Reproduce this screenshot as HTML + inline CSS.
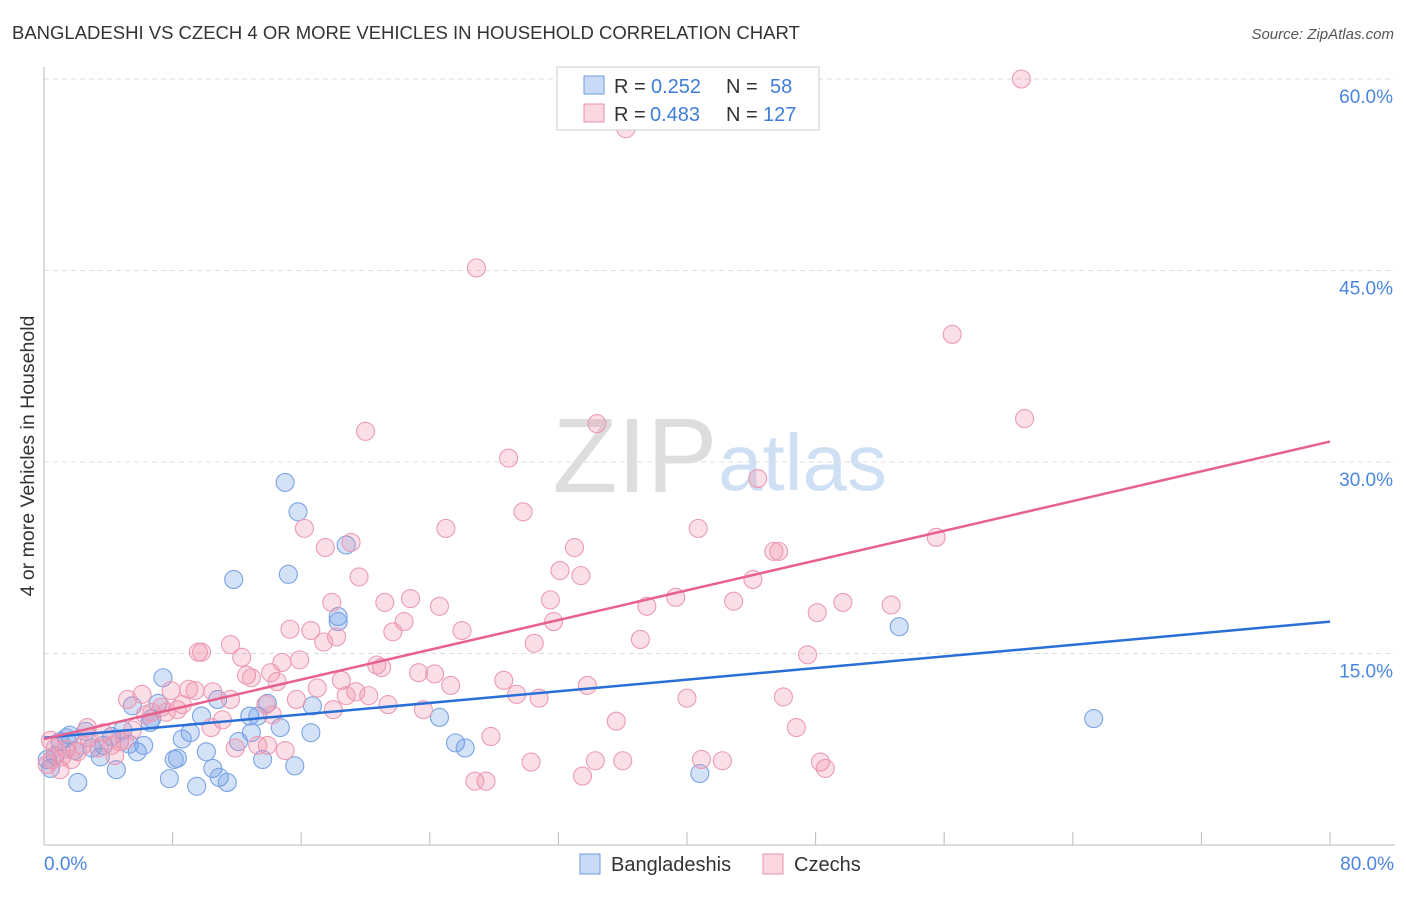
<!DOCTYPE html>
<html><head><meta charset="utf-8"><style>
body{margin:0;background:#fff;font-family:"Liberation Sans",sans-serif;}
svg text{font-family:"Liberation Sans",sans-serif;}
</style></head><body>
<svg id="chart" width="1406" height="892">
<text x="12" y="39" font-size="18.5" fill="#333">BANGLADESHI VS CZECH 4 OR MORE VEHICLES IN HOUSEHOLD CORRELATION CHART</text>
<text x="1394" y="39" font-size="15" fill="#555" font-style="italic" text-anchor="end">Source: ZipAtlas.com</text>
<text x="34" y="456" font-size="19.5" fill="#333" transform="rotate(-90 34 456)" text-anchor="middle">4 or more Vehicles in Household</text>
<g><text x="635" y="492" font-size="106" fill="#ddd" text-anchor="middle" font-family="Liberation Serif,serif">ZIP</text><text x="718" y="490" font-size="80" fill="#cfe0f5">atlas</text></g>
<g id="grid"></g><g id="axes"></g><g id="pts"></g><g id="lines"></g>
<g>
<rect x="557" y="67" width="262" height="63" fill="#fff" stroke="#ccc"/>
<rect x="584" y="76" width="20" height="18" fill="rgba(100,150,230,0.35)" stroke="#6e9be0"/>
<rect x="584" y="104" width="20" height="18" fill="rgba(240,140,170,0.35)" stroke="#e891ab"/>
<text x="614" y="93" font-size="20" fill="#333">R =</text><text x="651" y="93" font-size="20" fill="#3f7ddc">0.252</text>
<text x="726" y="93" font-size="20" fill="#333">N =</text><text x="770" y="93" font-size="20" fill="#3f7ddc">58</text>
<text x="614" y="121" font-size="20" fill="#333">R =</text><text x="650" y="121" font-size="20" fill="#3f7ddc">0.483</text>
<text x="726" y="121" font-size="20" fill="#333">N =</text><text x="763" y="121" font-size="20" fill="#3f7ddc">127</text>
</g>
<g>
<rect x="580" y="854" width="20" height="20" fill="rgba(100,150,230,0.35)" stroke="#6e9be0"/>
<text x="611" y="871" font-size="20" fill="#333">Bangladeshis</text>
<rect x="763" y="854" width="20" height="20" fill="rgba(240,140,170,0.35)" stroke="#e891ab"/>
<text x="794" y="871" font-size="20" fill="#333">Czechs</text>
</g>
</svg>
<script>
const blueX=[15.0,15.8,15.2,11.8,18.8,18.3,18.3,53.2,65.3,7.4,5.5,7.1,10.8,9.8,12.8,13.3,13.9,16.7,14.7,16.6,12.9,12.1,9.1,8.6,10.1,13.6,15.6,10.5,10.9,11.4,9.5,7.8,8.1,8.3,4.5,2.1,24.6,25.6,26.2,40.8,6.6,6.7,4.9,5.3,5.8,6.2,2.6,1.6,1.4,1.0,3.5,3.0,0.4,0.2,3.7,4.2,0.7,1.9];
const blueY=[28.4,26.1,21.2,20.8,23.5,17.9,17.5,17.1,9.9,13.1,10.9,11.1,11.4,10.1,10.1,10.1,11.1,10.9,9.2,8.8,8.8,8.1,8.8,8.3,7.3,6.7,6.2,6.0,5.3,4.9,4.6,5.2,6.7,6.8,5.9,4.9,10.0,8.0,7.6,5.6,9.6,9.9,9.0,7.9,7.3,7.8,8.9,8.6,8.4,8.1,6.9,7.6,6.0,6.7,7.8,8.5,7.0,7.4];
const pinkX=[60.8,36.2,26.9,56.5,61.0,20.0,34.4,28.9,44.4,29.8,25.0,40.7,16.2,19.1,17.5,55.5,33.0,45.4,45.7,32.1,33.4,19.6,44.1,22.8,21.2,17.9,31.5,39.3,42.9,52.7,49.7,48.1,37.5,24.6,31.7,22.4,21.7,26.0,15.3,16.6,37.1,30.5,18.2,17.4,11.6,9.6,9.8,47.5,12.3,15.9,14.8,20.7,21.0,14.1,12.6,12.9,23.3,24.3,14.5,28.6,25.3,18.5,17.0,33.8,9.0,7.9,6.1,19.4,18.8,20.2,29.4,30.8,40.0,46.0,10.5,11.6,8.6,7.3,6.7,8.3,13.8,15.7,21.4,23.6,11.1,35.6,46.8,10.4,5.5,3.7,2.8,4.7,27.8,13.3,13.9,15.0,11.9,1.4,2.1,4.4,0.4,0.7,0.5,0.2,1.1,1.7,2.4,3.4,4.2,30.3,34.3,36.0,40.9,42.2,48.3,48.6,33.5,26.8,27.5,5.2,2.7,1.0,6.3,9.4,7.6,14.2,18.0,5.0];
const pinkY=[60.0,56.1,45.2,40.0,33.4,32.4,33.0,30.3,28.7,26.1,24.8,24.8,24.8,23.7,23.3,24.1,23.3,23.0,23.0,21.5,21.1,21.0,20.8,19.3,19.0,19.0,19.2,19.4,19.1,18.8,19.0,18.2,18.7,18.7,17.5,17.5,16.7,16.8,16.9,16.8,16.1,15.8,16.3,15.9,15.7,15.1,15.1,14.9,14.7,14.5,14.3,14.1,13.9,13.5,13.3,13.1,13.5,13.4,12.8,12.9,12.5,12.9,12.3,12.5,12.2,12.1,11.8,12.0,11.7,11.7,11.8,11.5,11.5,11.6,12.0,11.4,11.0,10.8,10.4,10.6,11.0,11.4,11.0,10.6,9.8,9.7,9.2,9.2,9.0,8.8,8.4,8.1,8.5,7.8,7.8,7.4,7.6,7.5,7.3,7.0,8.2,7.6,6.7,6.3,6.9,6.7,7.8,7.6,7.8,6.5,6.6,6.6,6.7,6.6,6.5,6.0,5.4,5.0,5.0,11.4,9.2,5.9,10.2,12.1,10.4,10.2,10.6,8.2];
const blueFit=[8.4,17.5];   // y at x=0, x=80
const pinkFit=[8.3,31.6];
const yTicks=[15,30,45,60];
const xTickLabels=["0.0%","80.0%"];
const NS="http://www.w3.org/2000/svg";
const sx=v=>44+v*(1286/80), sy=v=>845-v*(191.5/15);
function mk(t,a,p){const e=document.createElementNS(NS,t);for(const k in a)e.setAttribute(k,a[k]);p.appendChild(e);return e;}
const grid=document.getElementById('grid'),axes=document.getElementById('axes'),pts=document.getElementById('pts'),lines=document.getElementById('lines');
yTicks.forEach(t=>{
 const l=mk('line',{x1:44,x2:1395,y1:sy(t),y2:sy(t),stroke:'#ddd','stroke-dasharray':'5,4'},grid);
 
 
 const tx=mk('text',{x:1393,y:sy(t)+24,'font-size':19,fill:'#4a86e0','text-anchor':'end'},axes);
 tx.textContent=t.toFixed(1)+'%';
 
 
});
mk('line',{x1:44,x2:1395,y1:79,y2:79,stroke:'#ddd','stroke-dasharray':'5,4'},grid);
const ya=mk('line',{x1:44,x2:44,y1:67,y2:845,stroke:'#bbb'},axes);


const xa=mk('line',{x1:44,x2:1395,y1:845,y2:845,stroke:'#bbb'},axes);


for(let i=0;i<=10;i++){mk('line',{x1:sx(i*8),x2:sx(i*8),y1:832,y2:845,stroke:'#bbb'},axes);}
const t0=mk('text',{x:44,y:870,'font-size':19,fill:'#4a86e0'},axes);t0.textContent=xTickLabels[0];


const t1=mk('text',{x:1394,y:870,'font-size':19,fill:'#4a86e0','text-anchor':'end'},axes);t1.textContent=xTickLabels[1];


function scatter(X,Y,fill,stroke,name){X.forEach((x,i)=>{
 const c=mk('circle',{cx:sx(x),cy:sy(Y[i]),r:9,fill:fill,stroke:stroke,'stroke-width':1.1},pts);
 
 
});}
scatter(blueX,blueY,'rgba(100,150,230,0.28)','#7aa3e4','bangladeshi-point');
scatter(pinkX,pinkY,'rgba(240,140,170,0.28)','#eb9bb4','czech-point');
const bl=mk('line',{x1:sx(0),y1:sy(blueFit[0]),x2:sx(80),y2:sy(blueFit[1]),stroke:'#2a6fd6','stroke-width':2.5},lines);


const pl=mk('line',{x1:sx(0),y1:sy(pinkFit[0]),x2:sx(80),y2:sy(pinkFit[1]),stroke:'#e8608e','stroke-width':2.5},lines);


</script>
</body></html>
